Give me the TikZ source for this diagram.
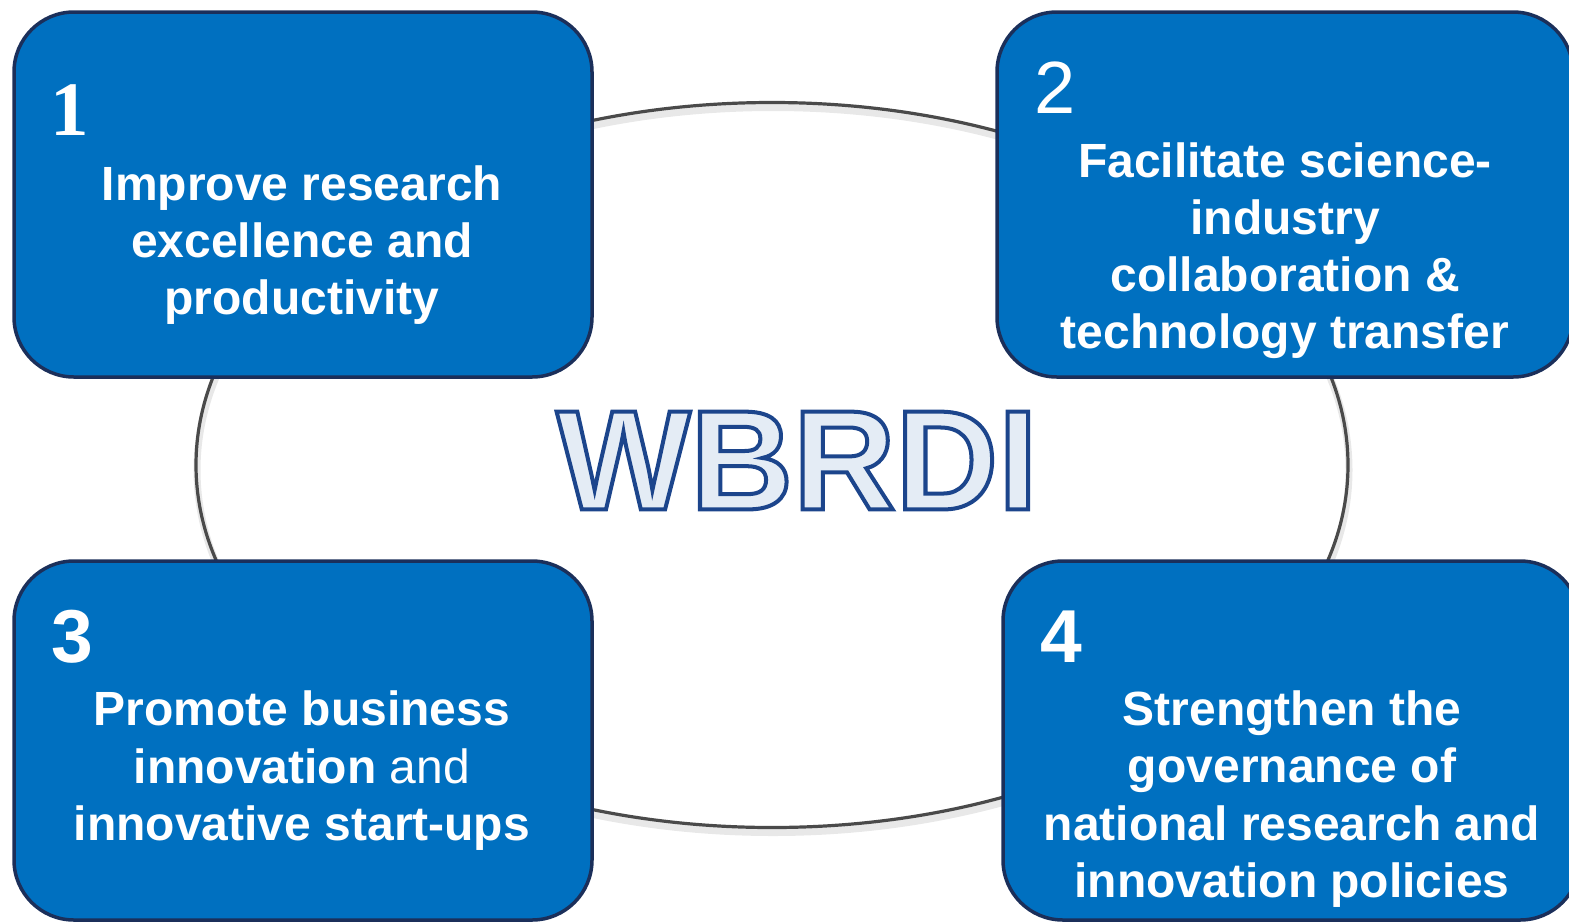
\documentclass[tikz,border=0pt]{standalone}
\usepackage{fontspec}
\setmainfont{Liberation Sans}
\newfontfamily\serifnum{Liberation Serif}
\usetikzlibrary{shapes.geometric}
\definecolor{boxblue}{HTML}{0070C0}
\definecolor{boxline}{HTML}{1B2F5A}
\definecolor{ringline}{HTML}{4A4A4A}
\definecolor{titlefill}{HTML}{E4ECF5}
\begin{document}
\begin{tikzpicture}[x=1pt,y=-1pt,
  goal/.style={draw=boxline, line width=3.5pt, fill=boxblue, rounded corners=60pt, inner sep=0pt, minimum height=365pt},
  goaltext/.style={text=white, font=\fontsize{48}{57}\selectfont\bfseries, anchor=base, inner sep=0pt},
  goalnum/.style={text=white, anchor=base west, inner sep=0pt}]
\useasboundingbox (0,0) rectangle (1569,922);
\clip (0,0) rectangle (1569,922);
% ring with soft shadow
\node[ellipse, draw=black!9, line width=7pt, minimum width=1152pt, minimum height=725pt, inner sep=0pt] (ringshadow) at (773,470) {};
\node[ellipse, draw=ringline, line width=3.2pt, minimum width=1152pt, minimum height=725pt, inner sep=0pt] (ring) at (772,465) {};
% goal boxes
\node[goal, minimum width=578pt] (g1) at (303,194.5) {};
\node[goal, minimum width=576pt] (g2) at (1285,194.5) {};
\node[goal, minimum width=578pt, minimum height=359pt] (g3) at (303,740.5) {};
\node[goal, minimum width=577pt, minimum height=359pt] (g4) at (1291.5,740.5) {};
% numbers
\node[goalnum, font=\serifnum\bfseries\fontsize{77}{77}\selectfont] (n1) at (50,135) {1};
\node[goalnum, font=\fontsize{74}{74}\selectfont] (n2) at (1034,113) {2};
\node[goalnum, font=\bfseries\fontsize{75}{75}\selectfont] (n3) at (51,662) {3};
\node[goalnum, font=\bfseries\fontsize{75}{75}\selectfont] (n4) at (1040,662) {4};
% box 1
\node[goaltext] (t1a) at (302,200) {Improve research};
\node[goaltext] (t1b) at (302,257) {excellence and};
\node[goaltext] (t1c) at (302,314) {productivity};
% box 2
\node[goaltext] (t2a) at (1285,177) {Facilitate science-};
\node[goaltext] (t2b) at (1285,234) {industry};
\node[goaltext] (t2c) at (1285,291) {collaboration \&};
\node[goaltext] (t2d) at (1285,348) {technology transfer};
% box 3
\node[goaltext] (t3a) at (302,725) {Promote business};
\node[goaltext] (t3b) at (302,783) {innovation \mdseries and};
\node[goaltext] (t3c) at (302,840) {innovative start-ups};
% box 4
\node[goaltext] (t4a) at (1292,725) {Strengthen the};
\node[goaltext] (t4b) at (1292,782) {governance of};
\node[goaltext] (t4c) at (1292,840) {national research and};
\node[goaltext] (t4d) at (1292,897) {innovation policies};
% centre title (outlined text)
\node[inner sep=0pt, font=\bfseries\fontsize{142}{142}\selectfont] (title) at (797,460.5)
  {\color{titlefill}\special{pdf:literal direct 2 Tr 4 w 0.11 0.27 0.55 RG}WBRDI\special{pdf:literal direct 0 Tr}};
\end{tikzpicture}
\end{document}
